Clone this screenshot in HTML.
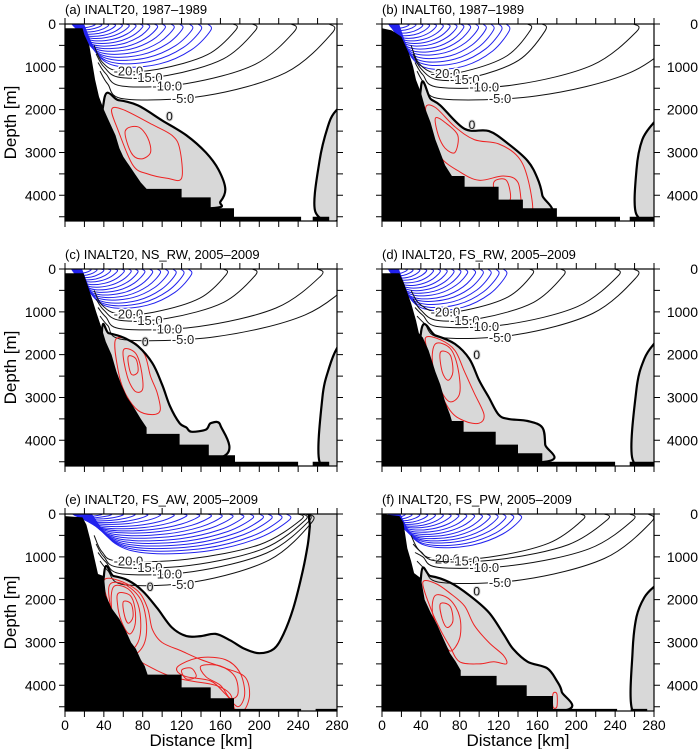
<!DOCTYPE html>
<html><head><meta charset="utf-8"><style>
html,body{margin:0;padding:0;background:#fff;}
svg{display:block;font-family:"Liberation Sans",sans-serif;}
</style></head><body>
<svg id="fig" width="700" height="749" viewBox="0 0 700 749" xmlns="http://www.w3.org/2000/svg"></svg>
<script>
// ---- data (km, depth m) ----
const xTicks=[0,20,40,60,80,100,120,140,160,180,200,220,240,260,280];
const xTickLabels=[0,40,80,120,160,200,240,280];
const yTicks=[0,500,1000,1500,2000,2500,3000,3500,4000,4500];
const yTickLabels=[0,1000,2000,3000,4000];
const panelTitles=["(a) INALT20, 1987\u20131989","(b) INALT60, 1987\u20131989","(c) INALT20, NS_RW, 2005\u20132009","(d) INALT20, FS_RW, 2005\u20132009","(e) INALT20, FS_AW, 2005\u20132009","(f) INALT20, FS_PW, 2005\u20132009"];

const bathyA=[[0,100],[18,100],[20,250],[25,500],[28,900],[31,1300],[35,1700],[40,2000],[44,2200],[48,2400],[52,2600],[56,2900],[60,3100],[66,3300],[72,3500],[78,3700],[84,3850],[120,3850],[120,4050],[150,4050],[150,4300],[174,4300],[174,4500],[243,4500],[243,4600],[255,4600],[255,4500],[272,4500],[272,4600],[280,4600]];
const bathyB=[[0,100],[10,150],[20,300],[28,700],[32,1000],[35,1300],[40,1600],[45,2000],[50,2300],[55,2700],[60,3000],[65,3300],[72,3550],[85,3550],[85,3800],[120,3800],[120,4100],[145,4100],[145,4300],[180,4300],[180,4500],[245,4500],[245,4600],[255,4600],[255,4500],[280,4500],[280,4600]];
const bathyC=[[0,100],[19,100],[22,300],[28,700],[32,1000],[38,1400],[42,1700],[48,2000],[53,2400],[58,2700],[64,3000],[70,3200],[78,3500],[84,3700],[84,3850],[118,3850],[118,4100],[148,4100],[148,4350],[175,4350],[175,4500],[240,4500],[240,4600],[255,4600],[255,4500],[272,4500],[272,4600],[280,4600]];
const bathyD=[[0,100],[18,100],[22,300],[30,800],[35,1200],[38,1500],[42,1600],[48,1900],[55,2400],[60,2700],[65,3100],[70,3400],[72,3550],[84,3550],[84,3800],[117,3800],[117,4100],[140,4100],[140,4300],[165,4300],[165,4500],[240,4500],[240,4600],[255,4600],[255,4500],[280,4500],[280,4600]];
const bathyE=[[0,50],[18,80],[22,250],[26,600],[30,1000],[34,1400],[40,1450],[42,1900],[48,2200],[56,2450],[63,2750],[68,3000],[73,3150],[78,3400],[82,3550],[85,3750],[120,3750],[120,4050],[150,4050],[150,4300],[174,4300],[174,4550],[243,4550],[243,4600],[258,4600],[258,4550],[280,4550],[280,4600]];
const bathyF=[[0,0],[18,50],[22,200],[26,800],[30,1100],[33,1380],[40,1500],[44,2000],[50,2300],[57,2600],[63,2900],[70,3250],[76,3450],[81,3650],[81,3780],[118,3780],[118,4000],[149,4000],[149,4250],[176,4250],[176,4550],[242,4550],[242,4600],[256,4600],[256,4550],[273,4550],[273,4600],[280,4600]];

const grayA=[[[40,1800],[55,1780],[75,1900],[100,2250],[125,2600],[145,3000],[158,3400],[165,3850],[160,4150],[150,4300],[40,4300]],[[285,1950],[280,2000],[272,2300],[262,3200],[258,4400],[285,4400]]];
const grayB=[[[40,1500],[50,1750],[60,1900],[85,2450],[110,2500],[130,2800],[150,3200],[160,3600],[165,4000],[166,4450],[40,4450]],[[285,2250],[280,2300],[268,2700],[262,3400],[262,4450],[285,4450]]];
const grayC=[[[38,1500],[45,1500],[60,1600],[75,1800],[90,2200],[100,2700],[108,3200],[118,3600],[125,3700],[130,3800],[145,3750],[150,3600],[160,3650],[160,4400],[40,4400]],[[285,1800],[280,1850],[272,2300],[265,3000],[262,4500],[285,4500]]];
const grayD=[[[40,1500],[55,1550],[75,1750],[90,2100],[100,2600],[110,3000],[120,3400],[130,3500],[150,3550],[165,3700],[168,4100],[168,4500],[40,4500]],[[285,1700],[280,1750],[270,2100],[262,2800],[258,4450],[285,4450]]];
const grayE=[[[40,1450],[50,1450],[65,1550],[80,1800],[95,2200],[110,2650],[125,2850],[140,2850],[155,2800],[170,2950],[185,3150],[200,3250],[215,3150],[225,2800],[235,2200],[245,1300],[250,700],[252,300],[254,-50],[285,-50],[285,4600],[40,4600]]];
const grayF=[[[40,1500],[50,1450],[70,1600],[90,1900],[110,2300],[125,2800],[135,3150],[150,3450],[170,3600],[180,3900],[185,4150],[185,4600],[40,4600]],[[285,1650],[280,1700],[270,1950],[262,2400],[258,3200],[258,4600],[285,4600]]];

const redA=[[[48,2000],[60,2000],[90,2350],[110,2600],[118,2900],[120,3600],[105,3600],[85,3500],[70,3300],[55,2500]],[[62,2500],[75,2400],[85,2650],[88,3000],[78,3150],[68,3000]]];
const redB=[[[45,1950],[55,1950],[75,2400],[95,2700],[120,2800],[140,3100],[150,3600],[155,4350],[145,4350],[140,3700],[125,3550],[100,3650],[80,3450],[60,3100],[50,2500]],[[55,2200],[65,2300],[78,2600],[75,3000],[65,2900],[58,2600]],[[115,3700],[128,3650],[132,4100],[120,4150]]];
const redC=[[[52,1650],[70,1700],[82,2000],[88,2500],[95,2900],[98,3300],[90,3400],[75,3300],[62,2900],[55,2400]],[[60,1900],[72,1950],[78,2300],[80,2800],[72,2850],[64,2500]],[[65,2050],[73,2100],[75,2400],[68,2450]]];
const redD=[[[45,1600],[60,1650],[75,1900],[85,2400],[95,2900],[105,3400],[100,3600],[85,3550],[70,3300],[55,2600],[48,2000]],[[55,1750],[70,1850],[78,2300],[80,2900],[70,3100],[60,2800],[52,2200]],[[60,1950],[70,2000],[73,2400],[68,2600],[62,2400]]];
const redE=[[[40,1550],[55,1550],[75,1800],[85,2200],[90,2700],[100,3000],[120,3200],[140,3400],[165,3600],[185,3800],[190,4200],[185,4560],[175,4560],[170,4200],[155,4000],[130,3900],[110,3800],[90,3600],[70,3300],[55,2700],[45,2100]],[[46,1650],[62,1650],[78,2000],[84,2600],[80,3100],[66,3300],[54,2800],[47,2200]],[[50,1700],[65,1750],[75,2100],[78,2600],[75,3000],[65,3200],[55,2800],[48,2200]],[[55,1850],[67,1900],[72,2200],[72,2600],[66,2800],[58,2500],[54,2100]],[[60,2050],[68,2100],[70,2400],[65,2550],[61,2350]],[[120,3500],[140,3350],[165,3400],[180,3700],[185,4200],[178,4500],[165,4200],[150,3900],[125,3800],[115,3650]],[[140,3550],[160,3550],[175,3800],[178,4200],[170,4300],[160,4000],[145,3800]],[[120,3650],[130,3600],[135,3800],[125,3850]]];
const redF=[[[42,1600],[55,1620],[70,1850],[85,2150],[95,2600],[110,3000],[125,3300],[128,3500],[115,3450],[100,3500],[80,3450],[70,3100],[60,2700],[50,2200]],[[55,1900],[70,2000],[80,2400],[80,2900],[70,3200],[60,2800],[52,2300]],[[60,2100],[70,2150],[73,2500],[67,2650],[62,2450]],[[176,4200],[180,4200],[180,4500],[176,4500]]];

// blue contour family: surface reach (km) and max depth (m)
const blueReachA=[150,140,131,121,112,103,95,87,80,73,66,59,52,45,38,31];
const blueDepthA=[1000,920,840,770,700,630,570,510,450,390,335,285,235,185,135,90];
const blueReachB=[131,123,115,107,99,91,84,77,70,63,56,49,42,35,28];
const blueDepthB=[1050,960,880,800,720,650,580,510,450,390,330,270,210,150,100];
const blueReachC=[130,122,114,106,98,90,82,75,68,61,54,47,40,33,27];
const blueDepthC=[910,850,790,720,660,600,540,480,420,360,300,250,200,150,100];
const blueReachD=[128,120,112,104,96,88,81,74,67,60,53,46,39,32,26];
const blueDepthD=[960,890,820,750,690,620,560,500,440,380,320,260,210,160,110];
const blueReachE=[231,222,212,203,193,183,172,161,150,138,125,112,98,85,72,60,48,38];
const blueDepthE=[920,860,800,740,680,620,560,500,440,390,340,290,240,200,160,120,90,60];
const blueReachF=[143,135,127,119,111,103,95,87,79,71,63,55,47,39,31,24];
const blueDepthF=[780,730,670,620,570,520,470,420,370,320,280,240,200,160,120,80];

// black negative contours: -20,-15,-10,-5
const blackReachA=[176,196,236,275];
const blackDepthA=[1100,1250,1450,1750];
const blackReachB=[153,168,262,310];
const blackDepthB=[1150,1300,1480,1750];
const blackReachC=[166,196,263,300];
const blackDepthC=[1050,1200,1400,1650];
const blackReachD=[155,187,243,262];
const blackDepthD=[1000,1200,1350,1600];
const blackReachE=[243,247,251,254];
const blackDepthE=[1100,1250,1400,1650];
const blackReachF=[207,232,258,277];
const blackDepthF=[1050,1100,1250,1600];
const blackLabels=["-20.0","-15.0","-10.0","-5.0"];

const panels=[
 {bathy:bathyA,gray:grayA,red:redA,bR:blueReachA,bD:blueDepthA,kR:blackReachA,kD:blackDepthA},
 {bathy:bathyB,gray:grayB,red:redB,bR:blueReachB,bD:blueDepthB,kR:blackReachB,kD:blackDepthB},
 {bathy:bathyC,gray:grayC,red:redC,bR:blueReachC,bD:blueDepthC,kR:blackReachC,kD:blackDepthC},
 {bathy:bathyD,gray:grayD,red:redD,bR:blueReachD,bD:blueDepthD,kR:blackReachD,kD:blackDepthD},
 {bathy:bathyE,gray:grayE,red:redE,bR:blueReachE,bD:blueDepthE,kR:blackReachE,kD:blackDepthE},
 {bathy:bathyF,gray:grayF,red:redF,bR:blueReachF,bD:blueDepthF,kR:blackReachF,kD:blackDepthF}
];

// ---- rendering ----
const NS="http://www.w3.org/2000/svg";
const svg=document.getElementById('fig');
const PW=272,PH=197,colX=[65,382],rowY=[24,269,514];
function mk(tag,attrs,parent){const e=document.createElementNS(NS,tag);for(const k in attrs)e.setAttribute(k,attrs[k]);(parent||svg).appendChild(e);return e;}
function crPath(pts,closed){
  const n=pts.length;let d='M'+pts[0][0].toFixed(1)+','+pts[0][1].toFixed(1);
  const get=i=>closed?pts[(i+n)%n]:pts[Math.max(0,Math.min(n-1,i))];
  const segs=closed?n:n-1;
  for(let i=0;i<segs;i++){const p0=get(i-1),p1=get(i),p2=get(i+1),p3=get(i+2);
    const c1=[p1[0]+(p2[0]-p0[0])/6,p1[1]+(p2[1]-p0[1])/6],c2=[p2[0]-(p3[0]-p1[0])/6,p2[1]-(p3[1]-p1[1])/6];
    d+='C'+c1[0].toFixed(1)+','+c1[1].toFixed(1)+' '+c2[0].toFixed(1)+','+c2[1].toFixed(1)+' '+p2[0].toFixed(1)+','+p2[1].toFixed(1);}
  return d+(closed?'Z':'');
}
panels.forEach((p,i)=>{
  const col=i%2,row=Math.floor(i/2),x0=colX[col],y0=rowY[row];
  const X=km=>x0+km*PW/280, Y=d=>y0+d*PH/4600;
  const g=mk('g',{});  
  const cid='clip'+i;
  const cp=mk('clipPath',{id:cid},g); mk('rect',{x:x0,y:y0,width:PW,height:PH},cp);
  const pg=mk('g',{'clip-path':'url(#'+cid+')'},g);
  p.gray.forEach((poly,j)=>{const e=mk('path',{d:crPath(poly.map(q=>[X(q[0]),Y(q[1])]),true),fill:'#d8d8d8',stroke:'none'},pg);
     });
  p.bR.forEach((R,k)=>{const D=p.bD[k],s=4+0.1*R;
    const pts=[[s,0],[s+0.12*(R-s),0.75*D],[s+0.3*(R-s),D],[s+0.6*(R-s),0.93*D],[s+0.85*(R-s),0.6*D],[R,0.15*D],[R-3,0]];
    const e=mk('path',{d:crPath(pts.map(q=>[X(q[0]),Y(q[1])]),false),fill:'none',stroke:'#2222ee','stroke-width':1},pg);
     });
  p.kR.forEach((R,k)=>{const D=p.kD[k],s=30+k*2,sd=500+k*200;
    const pts=[[s,sd],[s+8,0.8*D],[s+25,D],[s+0.45*(R-s),0.96*D],[s+0.8*(R-s),0.65*D],[R,0.12*D],[R-3,0]];
    const e=mk('path',{d:crPath(pts.map(q=>[X(q[0]),Y(q[1])]),false),fill:'none',stroke:'#111','stroke-width':1},pg);
     
    const lx=X(s+20+k*18),ly=Y(D*0.99)+5;
    const t=mk('text',{x:lx,y:ly,'font-size':13,fill:'#222',stroke:'#fff','stroke-width':3,'paint-order':'stroke'},pg);
    t.textContent=blackLabels[k];  });
  p.red.forEach(poly=>{const e=mk('path',{d:crPath(poly.map(q=>[X(q[0]),Y(q[1])]),true),fill:'none',stroke:'#ee2222','stroke-width':1},pg);
     });
  p.gray.forEach(poly=>{const e=mk('path',{d:crPath(poly.map(q=>[X(q[0]),Y(q[1])]),true),fill:'none',stroke:'#000','stroke-width':2.2},pg);
     });
  const zl=mk('text',{x:X(p.gray[0][3][0])+4,y:Y(p.gray[0][3][1]),'font-size':12,fill:'#111',stroke:'#d8d8d8','stroke-width':2,'paint-order':'stroke'},pg);
  zl.textContent='0';  
  const bp=p.bathy.map(q=>[X(q[0]),Y(q[1])]);
  let bd='M'+X(0)+','+Y(4700)+' '+bp.map(q=>'L'+q[0].toFixed(1)+','+q[1].toFixed(1)).join(' ')+' L'+X(280)+','+Y(4700)+'Z';
  const be=mk('path',{d:bd,fill:'#000'},pg);  
  const fr=mk('rect',{x:x0,y:y0,width:PW,height:PH,fill:'none',stroke:'#000','stroke-width':1.2},g);
   
  let td='';
  xTicks.forEach(v=>{const x=X(v);td+='M'+x+','+(y0+PH)+'v6M'+x+','+y0+'v-6';});
  yTicks.forEach(v=>{const y=Y(v);td+='M'+x0+','+y+'h-6M'+(x0+PW)+','+y+'h6';});
  const tk=mk('path',{d:td,stroke:'#000','stroke-width':1,fill:'none'},g);  
  yTickLabels.forEach(v=>{const t=mk('text',col===0?{x:x0-9,y:Y(v)+5,'text-anchor':'end','font-size':14}:{x:698,y:Y(v)+5,'text-anchor':'end','font-size':14},g);
    t.textContent=v;  });
  if(row===2){xTickLabels.forEach(v=>{const t=mk('text',{x:X(v),y:y0+PH+19,'text-anchor':'middle','font-size':14},g);
    t.textContent=v;  });
    const xt=mk('text',{x:x0+PW/2,y:y0+PH+35,'text-anchor':'middle','font-size':17},g);
    xt.textContent='Distance [km]';  }
  if(col===0){const yt=mk('text',{x:0,y:0,'text-anchor':'middle','font-size':17,transform:'translate(16,'+(y0+PH/2)+') rotate(-90)'},g);
    yt.textContent='Depth [m]';  }
  const tt=mk('text',{x:x0,y:y0-10,'font-size':13},g);
  tt.textContent=panelTitles[i];  
});
</script>
</body></html>
